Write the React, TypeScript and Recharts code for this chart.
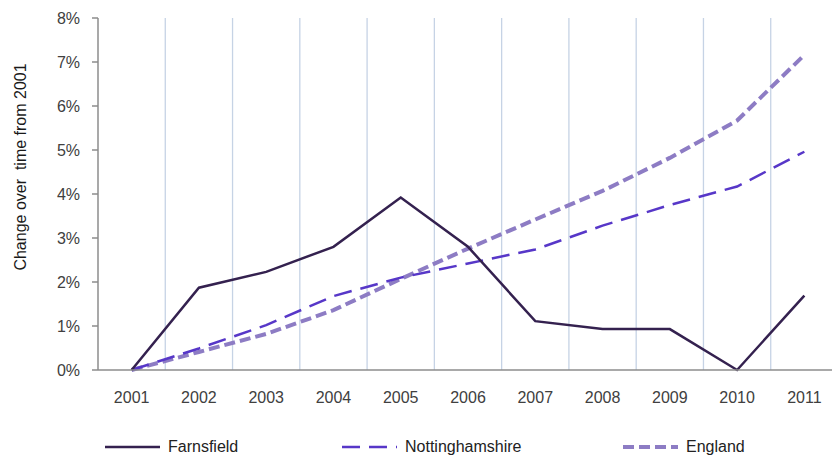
import {CartesianGrid, Label, Legend, Line, LineChart, XAxis, YAxis} from 'recharts'

const years = ['2001', '2002', '2003', '2004', '2005', '2006', '2007', '2008', '2009', '2010', '2011']
const farnsfield = [0, 1.87, 2.23, 2.8, 3.92, 2.8, 1.11, 0.93, 0.93, 0, 1.69]
const nottinghamshire = [0, 0.49, 1.02, 1.68, 2.1, 2.42, 2.74, 3.28, 3.75, 4.17, 4.96]
const england = [0, 0.41, 0.82, 1.36, 2.07, 2.76, 3.42, 4.07, 4.82, 5.67, 7.16]
const yTicks = [0, 1, 2, 3, 4, 5, 6, 7, 8]

const data = years.map((year, i) => ({
    year,
    farnsfield: farnsfield[i],
    nottinghamshire: nottinghamshire[i],
    england: england[i],
}))

const font = '"Liberation Sans", Arial, sans-serif'
const textColor = '#404040'
const axisColor = '#8c8c8c'

const legendItems = [
    {name: 'Farnsfield', color: '#34214f', dash: undefined, width: 2.5, x: 105},
    {name: 'Nottinghamshire', color: '#5737c8', dash: '18 9', width: 2.5, x: 342},
    {name: 'England', color: '#8d7cc4', dash: '11 5', width: 4, x: 623},
]

function ChartLegend() {
    return (
        <div style={{position: 'relative', width: 850, height: 20, fontFamily: font, fontSize: 16, color: '#222'}}>
            {legendItems.map(item => (
                <div key={item.name} style={{position: 'absolute', left: item.x, top: 0, height: 20, display: 'flex', alignItems: 'center'}}>
                    <svg width={56} height={20}>
                        <line x1={0} y1={10} x2={55} y2={10} stroke={item.color}
                              strokeWidth={item.width} strokeDasharray={item.dash}/>
                    </svg>
                    <span style={{marginLeft: 7}}>{item.name}</span>
                </div>
            ))}
        </div>
    )
}

export default function App() {
    const pad = 740 / (years.length * 2)
    return (
        <div style={{position: 'absolute', left: 0, top: 0, width: 832, height: 460, overflow: 'hidden', background: '#fff'}}>
            <LineChart width={850} height={460} data={data} margin={{top: 18, right: 12, bottom: 3, left: 0}}>
                <CartesianGrid
                    horizontal={false}
                    stroke="#c6d3e5"
                    strokeWidth={1.3}
                    verticalCoordinatesGenerator={({offset}: any) =>
                        years.slice(1).map((_, i) => offset.left + (offset.width * (i + 1)) / years.length)
                    }
                />
                <XAxis
                    dataKey="year"
                    padding={{left: pad, right: pad}}
                    axisLine={{stroke: axisColor, strokeWidth: 1.5}}
                    tickLine={false}
                    tickSize={0}
                    tickMargin={22}
                    height={67}
                    interval={0}
                    tick={{fill: textColor, fontSize: 16, fontFamily: font}}
                />
                <YAxis
                    width={98}
                    domain={[0, 8]}
                    ticks={yTicks}
                    tickFormatter={v => `${v}%`}
                    axisLine={{stroke: axisColor, strokeWidth: 1.5}}
                    tickLine={{stroke: axisColor, strokeWidth: 1.5}}
                    tickSize={6}
                    tickMargin={12}
                    tick={{fill: textColor, fontSize: 16, fontFamily: font}}
                >
                    <Label
                        content={() => (
                            <text x={20} y={167} transform="rotate(-90 20 167)" textAnchor="middle"
                                  dominantBaseline="central" fill="#1a1a1a" fontSize={16} fontFamily={font}>
                                {'Change over\u00a0 time from 2001'}
                            </text>
                        )}
                    />
                </YAxis>
                <Legend verticalAlign="bottom" wrapperStyle={{left: 0, width: 850}} content={() => <ChartLegend/>}/>
                <Line dataKey="england" name="England" stroke="#8d7cc4" strokeWidth={4} strokeDasharray="11 5"
                      dot={false} isAnimationActive={false} type="linear"/>
                <Line dataKey="nottinghamshire" name="Nottinghamshire" stroke="#5737c8" strokeWidth={2.5}
                      strokeDasharray="18 9" dot={false} isAnimationActive={false} type="linear"/>
                <Line dataKey="farnsfield" name="Farnsfield" stroke="#34214f" strokeWidth={2.5}
                      dot={false} isAnimationActive={false} type="linear"/>
            </LineChart>
        </div>
    )
}
